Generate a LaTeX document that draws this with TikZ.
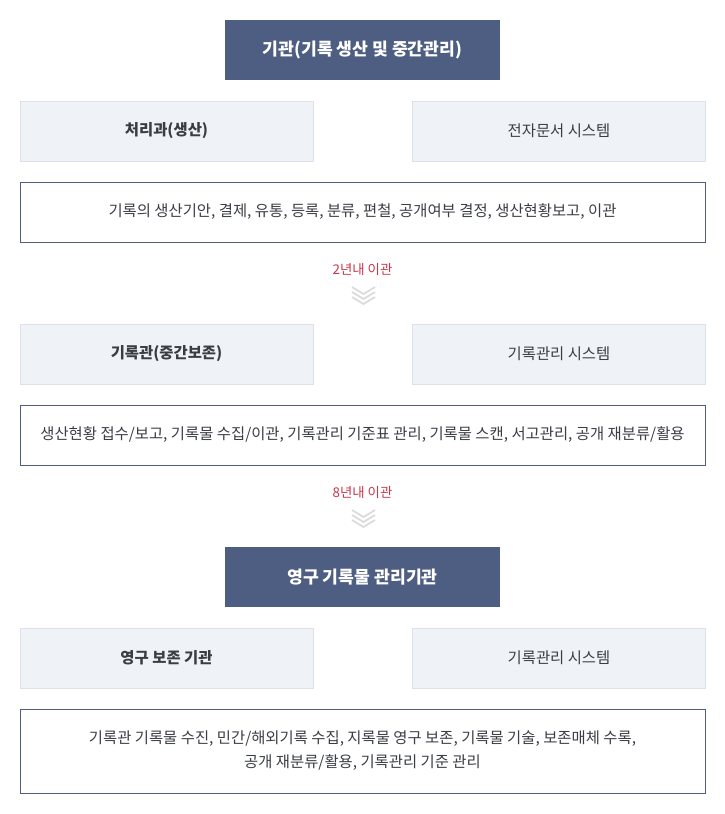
\documentclass[tikz,border=0pt]{standalone}
\usepackage{fontspec}
\setmainfont{Noto Sans CJK KR}
\definecolor{navy}{HTML}{4E5D82}
\definecolor{paleblue}{HTML}{EFF2F6}
\definecolor{paleline}{HTML}{DCE1E7}
\definecolor{textgray}{HTML}{3A3D44}
\definecolor{movered}{HTML}{C8374A}
\definecolor{chevgray}{HTML}{DADADA}
\tikzset{
    headbox/.style={fill=navy, text=white, font=\fontsize{17.2}{20}\selectfont\bfseries,
        minimum width=275pt, minimum height=60pt, inner sep=0pt},
    sidebox/.style={fill=paleblue, draw=paleline, text=textgray, font=\fontsize{15.4}{18}\selectfont,
        minimum width=293pt, minimum height=60pt, inner sep=0pt},
    descbox/.style={draw=navy, text=textgray, font=\fontsize{15.4}{24}\selectfont,
        minimum width=685pt, minimum height=60pt, inner sep=0pt, align=center},
    movelabel/.style={text=movered, font=\fontsize{13.4}{16}\selectfont, inner sep=0pt},
}
\begin{document}
\begin{tikzpicture}[x=1pt, y=-1pt]
    \useasboundingbox (0, 0) rectangle (725, 814);

    % Stage 1
    \node[headbox] (org) at (362.5, 50) {기관(기록 생산 및 중간관리)};
    \node[sidebox, font=\fontsize{15.4}{18}\selectfont\bfseries] (dept) at (166.5, 131) {처리과(생산)};
    \node[sidebox] (edms) at (559, 131) {전자문서 시스템};
    \node[descbox] (task1) at (362.5, 212) {기록의 생산기안, 결제, 유통, 등록, 분류, 편철, 공개여부 결정, 생산현황보고, 이관};

    % Transfer after 2 years
    \node[movelabel] (move1) at (362.5, 269) {2년내 이관};
    \foreach \d in {0, 5, 10} {
        \draw[chevgray, line width=1.7pt] (352, 287+\d) -- (363.5, 294+\d) -- (375, 287+\d);
    }

    % Stage 2
    \node[sidebox, font=\fontsize{15.4}{18}\selectfont\bfseries] (arch) at (166.5, 354) {기록관(중간보존)};
    \node[sidebox] (rms1) at (559, 354) {기록관리 시스템};
    \node[descbox] (task2) at (362.5, 435) {생산현황 접수/보고, 기록물 수집/이관, 기록관리 기준표 관리, 기록물 스캔, 서고관리, 공개 재분류/활용};

    % Transfer after 8 years
    \node[movelabel] (move2) at (362.5, 492) {8년내 이관};
    \foreach \d in {0, 5, 10} {
        \draw[chevgray, line width=1.7pt] (352, 510+\d) -- (363.5, 517+\d) -- (375, 510+\d);
    }

    % Stage 3
    \node[headbox] (perm) at (362.5, 577) {영구 기록물 관리기관};
    \node[sidebox, font=\fontsize{15.4}{18}\selectfont\bfseries] (keep) at (166.5, 658) {영구 보존 기관};
    \node[sidebox] (rms2) at (559, 658) {기록관리 시스템};
    \node[descbox, minimum height=84pt] (task3) at (362.5, 751) {기록관 기록물 수진, 민간/해외기록 수집, 지록물 영구 보존, 기록물 기술, 보존매체 수록,\\공개 재분류/활용, 기록관리 기준 관리};
\end{tikzpicture}
\end{document}
